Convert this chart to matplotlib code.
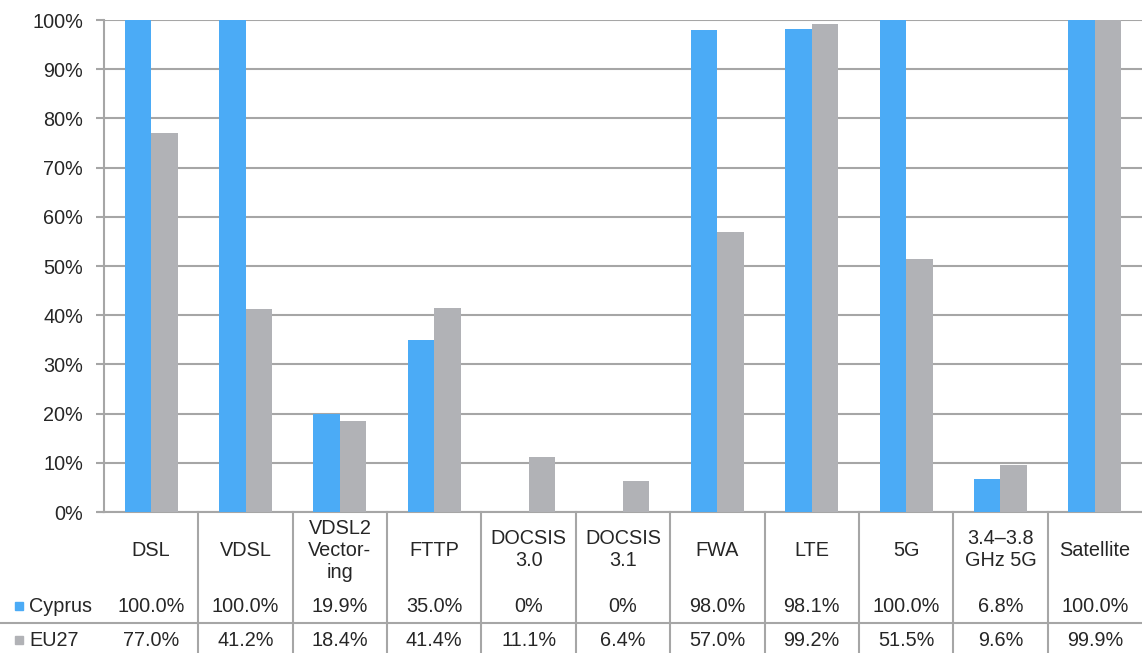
import matplotlib
matplotlib.use("Agg")
import matplotlib.pyplot as plt
from matplotlib.transforms import blended_transform_factory
from matplotlib.patches import Rectangle

plt.rcParams['font.family'] = ['Liberation Sans', 'DejaVu Sans']

categories = ["DSL", "VDSL", "VDSL2\nVector-\ning", "FTTP", "DOCSIS\n3.0", "DOCSIS\n3.1",
              "FWA", "LTE", "5G", "3.4\u20133.8\nGHz 5G", "Satellite"]
cyprus = [100.0, 100.0, 19.9, 35.0, 0, 0, 98.0, 98.1, 100.0, 6.8, 100.0]
eu27 = [77.0, 41.2, 18.4, 41.4, 11.1, 6.4, 57.0, 99.2, 51.5, 9.6, 99.9]
cyprus_labels = ["100.0%", "100.0%", "19.9%", "35.0%", "0%", "0%", "98.0%", "98.1%", "100.0%", "6.8%", "100.0%"]
eu27_labels = ["77.0%", "41.2%", "18.4%", "41.4%", "11.1%", "6.4%", "57.0%", "99.2%", "51.5%", "9.6%", "99.9%"]
series_names = ["Cyprus", "EU27"]
yticks = list(range(0, 101, 10))

BLUE = "#4BABF6"
GREY = "#B1B2B6"
LINE = "#A6A6A6"
TEXT = "#262626"
FS = 14.3

W, H = 1142, 653
fig = plt.figure(figsize=(W / 100, H / 100), dpi=100)
left_px, right_px, top_px, bottom_px = 104, 1142, 20, 512
ax = fig.add_axes([left_px / W, 1 - bottom_px / H,
                   (right_px - left_px) / W, (bottom_px - top_px) / H])

n = len(categories)
x = list(range(n))
bw = 0.28
ax.bar([i - bw / 2 for i in x], cyprus, width=bw, color=BLUE, zorder=3)
ax.bar([i + bw / 2 for i in x], eu27, width=bw, color=GREY, zorder=3)

ax.set_xlim(-0.5, n - 0.5)
ax.set_ylim(0, 100)
ax.set_yticks(yticks)
ax.set_yticklabels([f"{v}%" for v in yticks], fontsize=FS, color=TEXT)
ax.set_xticks([])
ax.yaxis.grid(True, color=LINE, linewidth=1.5, zorder=0)
ax.set_axisbelow(True)
for s in ("top", "right"):
    ax.spines[s].set_visible(False)
for s in ("left", "bottom"):
    ax.spines[s].set_color(LINE)
    ax.spines[s].set_linewidth(1.5)
ax.tick_params(axis="y", length=6, width=1.5, color=LINE, pad=9)

# Data table below the axes: y given in pixels from top of figure
span = bottom_px - top_px

def ay(ypix):
    return (bottom_px - ypix) / span

tr = blended_transform_factory(ax.transData, ax.transAxes)
tra = ax.transAxes

# axis line extends left to the tick length
ax.plot([-6 / (right_px - left_px), 0], [0, 0], transform=tra, color=LINE,
        linewidth=1.5, clip_on=False)

for k in range(1, n):
    ax.plot([k - 0.5, k - 0.5], [ay(512), ay(653)], transform=tr, color=LINE,
            linewidth=1.5, clip_on=False)
ax.plot([-left_px / (right_px - left_px), 1], [ay(623), ay(623)], transform=tra,
        color=LINE, linewidth=1.5, clip_on=False)

for i, cat in enumerate(categories):
    ax.text(i, ay(550), cat, transform=tr, ha="center", va="center", fontsize=FS,
            color=TEXT, linespacing=1.2, clip_on=False)
    ax.text(i, ay(606), cyprus_labels[i], transform=tr, ha="center", va="center",
            fontsize=FS, color=TEXT, clip_on=False)
    ax.text(i, ay(640), eu27_labels[i], transform=tr, ha="center", va="center",
            fontsize=FS, color=TEXT, clip_on=False)

# legend keys in the row headers
for name, col, ypix in zip(series_names, [BLUE, GREY], [606, 640]):
    fig.patches.append(Rectangle((15 / W, 1 - (ypix + 4) / H), 8 / W, 8 / H,
                                 transform=fig.transFigure, color=col))
    fig.text(29 / W, 1 - ypix / H, name, ha="left", va="center", fontsize=FS, color=TEXT)

fig.savefig("out.png", dpi=100, facecolor="white")
